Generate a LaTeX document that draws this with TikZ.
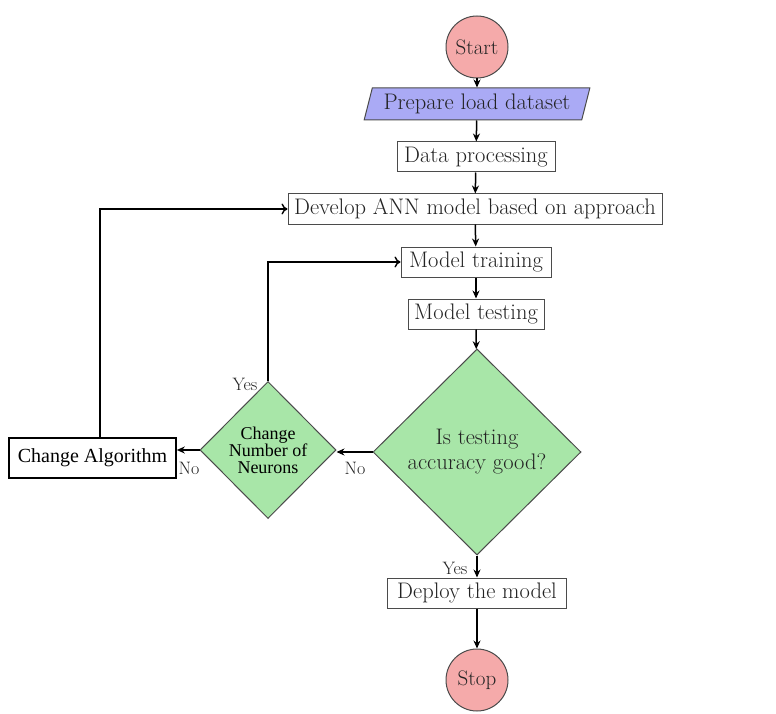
\documentclass[tikz,border=0pt]{standalone}
\usepackage{fontspec}
\newfontfamily\timesfont{Liberation Serif}
\usetikzlibrary{shapes.geometric,arrows.meta}
\definecolor{termfill}{RGB}{245,170,170}
\definecolor{iofill}{RGB}{170,170,245}
\definecolor{decfill}{RGB}{168,230,168}
\definecolor{edge}{RGB}{75,75,75}
\definecolor{ink}{RGB}{35,35,35}
\begin{document}
\begin{tikzpicture}[x=1pt,y=-1pt,
  base/.style={draw=edge, line width=1pt, text=ink, font=\fontsize{22.5}{26}\selectfont, inner sep=0pt},
  term/.style={base, circle, fill=termfill, minimum size=62pt, font=\fontsize{21}{24}\selectfont},
  io/.style={base, trapezium, trapezium left angle=70, trapezium right angle=110,
    trapezium stretches=true, fill=iofill, minimum width=226pt, minimum height=32pt},
  proc/.style={base, rectangle, minimum height=30pt},
  decision/.style={base, diamond, fill=decfill, align=center},
  flow/.style={-{Stealth[length=8pt,width=7pt]}, line width=1.5pt, black},
  back/.style={-{To[length=6pt,width=11pt,line width=1.4pt]}, line width=2.4pt, black},
  lbl/.style={text=ink, font=\fontsize{18}{20}\selectfont, inner sep=0pt}
]
\useasboundingbox (0,0) rectangle (776,714);

% main column
\node[term] (start) at (477,47) {Start};
\node[io] (prep) at (477,104) {Prepare load dataset};
\node[proc, minimum width=158pt] (dp) at (476,157) {Data processing};
\node[proc, minimum width=374pt] (ann) at (475,209) {Develop ANN model based on approach};
\node[proc, minimum width=150pt] (train) at (476,262) {Model training};
\node[proc, minimum width=136pt] (test) at (476,314) {Model testing};
\node[decision, minimum width=208pt, minimum height=206pt] (good) at (477,452)
  {Is testing\\[-1pt] accuracy good?};
\node[proc, minimum width=179pt] (deploy) at (477,593) {Deploy the model};
\node[term] (stop) at (477,680) {Stop};

% side branch
\node[decision, minimum width=136pt, minimum height=137pt, text=black,
  font=\timesfont\fontsize{18}{17}\selectfont] (neu) at (268,450)
  {Change\\Number of\\Neurons};
\node[draw=black, line width=1.6pt, rectangle, minimum width=167pt, minimum height=40pt,
  inner sep=0pt, font=\timesfont\fontsize{20}{22}\selectfont] (alg) at (92.5,458)
  {Change Algorithm};

% main flow
\draw[flow] (start) -- (prep);
\draw[flow] (prep) -- (dp);
\draw[flow] (dp) -- (ann);
\draw[flow] (ann) -- (train);
\draw[flow] (train) -- (test);
\draw[flow] (test) -- (good);
\draw[flow] (good) -- (deploy);
\draw[flow] (deploy) -- (stop);
\draw[flow] (good.west) -- (good.west -| neu.east);
\draw[flow] (neu.west) -- (neu.west -| alg.east);

% feedback loops
\draw[back] (neu.north) |- (train.west);
\draw[back] ([xshift=7.5pt]alg.north) |- (ann.west);

% branch labels
\node[lbl] (yes1) at (455,568) {Yes};
\node[lbl] (no1) at (355,468) {No};
\node[lbl] (no2) at (189,468) {No};
\node[lbl] (yes2) at (245,384) {Yes};
\end{tikzpicture}
\end{document}
